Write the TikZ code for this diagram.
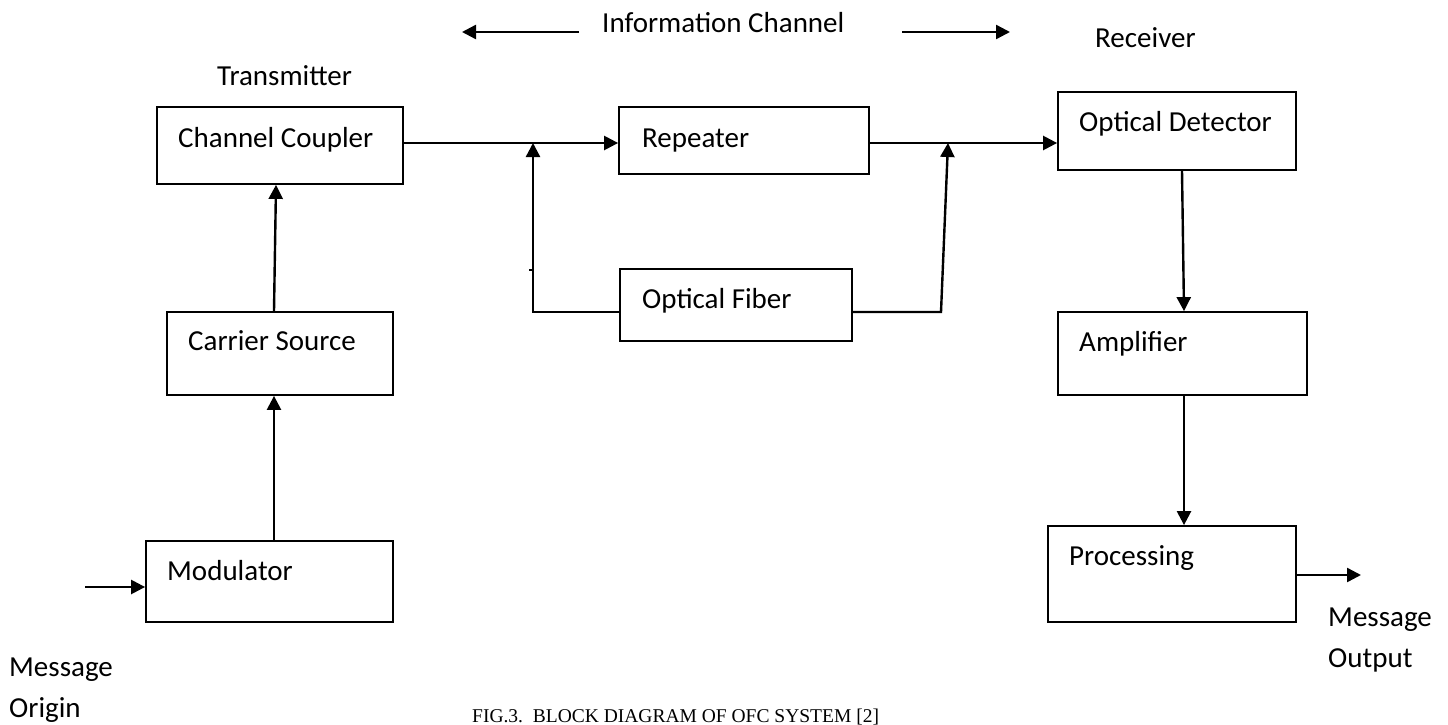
\documentclass[tikz,border=0pt]{standalone}
\usepackage{fontspec}
\setmainfont{Carlito}
\newfontfamily\capfont{Liberation Serif}
\usetikzlibrary{arrows.meta,calc}
\begin{document}
\begin{tikzpicture}[x=1pt,y=-1pt,
  box/.style={draw,line width=1.8pt,inner sep=0pt},
  lbl/.style={anchor=base west,inner sep=0pt,font=\fontsize{29}{34}\selectfont},
  conn/.style={line width=2.4pt},
  arr/.style={conn,-{Triangle[length=14pt,width=14pt]}}]
\useasboundingbox (0,0) rectangle (1448,725);
% boxes
\node[box,minimum width=246pt,minimum height=77pt] (cc) at (280,145.5) {};
\node[box,minimum width=226pt,minimum height=83pt] (cs) at (280,353.5) {};
\node[box,minimum width=247pt,minimum height=81pt] (mod) at (269.5,581.5) {};
\node[box,minimum width=250pt,minimum height=67pt] (rep) at (744,140.5) {};
\node[box,minimum width=232pt,minimum height=72pt] (of) at (736,305) {};
\node[box,minimum width=238pt,minimum height=78pt] (od) at (1177,131) {};
\node[box,minimum width=249pt,minimum height=83pt] (amp) at (1182.5,353.5) {};
\node[box,minimum width=248pt,minimum height=96pt] (proc) at (1172,574) {};
% box labels
\node[lbl] (tcc) at (178,147) {Channel Coupler};
\node[lbl] (tcs) at (188,350) {Carrier Source};
\node[lbl] (tmod) at (167,580) {Modulator};
\node[lbl] (trep) at (642,147) {Repeater};
\node[lbl] (tof) at (642,308) {Optical Fiber};
\node[lbl] (tod) at (1079,131) {Optical Detector};
\node[lbl] (tamp) at (1079,351) {Amplifier};
\node[lbl] (tproc) at (1069,565) {Processing};
% free labels
\node[lbl] (tinfo) at (602,33) {Information Channel};
\node[lbl] (ttx) at (217,85) {Transmitter};
\node[lbl] (trx) at (1095,48) {Receiver};
\node[lbl] (tmo1) at (9,676) {Message};
\node[lbl] (tmo2) at (9,717) {Origin};
\node[lbl] (tmu1) at (1328,626) {Message};
\node[lbl] (tmu2) at (1328,667) {Output};
\node[anchor=base west,inner sep=0pt,font=\capfont\fontsize{19.5}{22}\selectfont] (cap) at (472,722) {FIG.3.\ \ BLOCK DIAGRAM OF OFC SYSTEM [2]};
% coordinates
\coordinate (il1) at (579,32);
\coordinate (il2) at (462,32);
\coordinate (ir1) at (902,32);
\coordinate (ir2) at (1010,32);
\coordinate (in) at (85,587);
\coordinate (j1) at (533,143);
\coordinate (j1b) at (533,312);
\coordinate (tick) at (529,270);
\coordinate (j2) at (948,143);
\coordinate (j2b) at (941,312);
\coordinate (out) at (1361,575);
% connectors
\draw[arr] (il1) -- (il2);
\draw[arr] (ir1) -- (ir2);
\draw[arr] (in) -- (in -| mod.west);
\draw[arr] ([xshift=4.5pt]mod.north) -- ([xshift=-6pt]cs.south);
\draw[arr] ([xshift=-6pt]cs.north) -- ([xshift=-4pt]cc.south);
\draw[arr] (cc.east |- j1) -- (j1 -| rep.west);
\draw[arr] (j1b -| of.west) -- (j1b) -- (j1);
\draw[line width=1.2pt] (tick) -- (tick -| j1);
\draw[arr] (rep.east |- j2) -- (j2 -| od.west);
\draw[arr] (j2b -| of.east) -- (j2b) -- (j2);
\draw[arr] ([xshift=5pt]od.south) -- ([xshift=1.5pt]amp.north);
\draw[arr] ([xshift=1.5pt]amp.south) -- ([xshift=12pt]proc.north);
\draw[arr] (out -| proc.east) -- (out);
\end{tikzpicture}
\end{document}
